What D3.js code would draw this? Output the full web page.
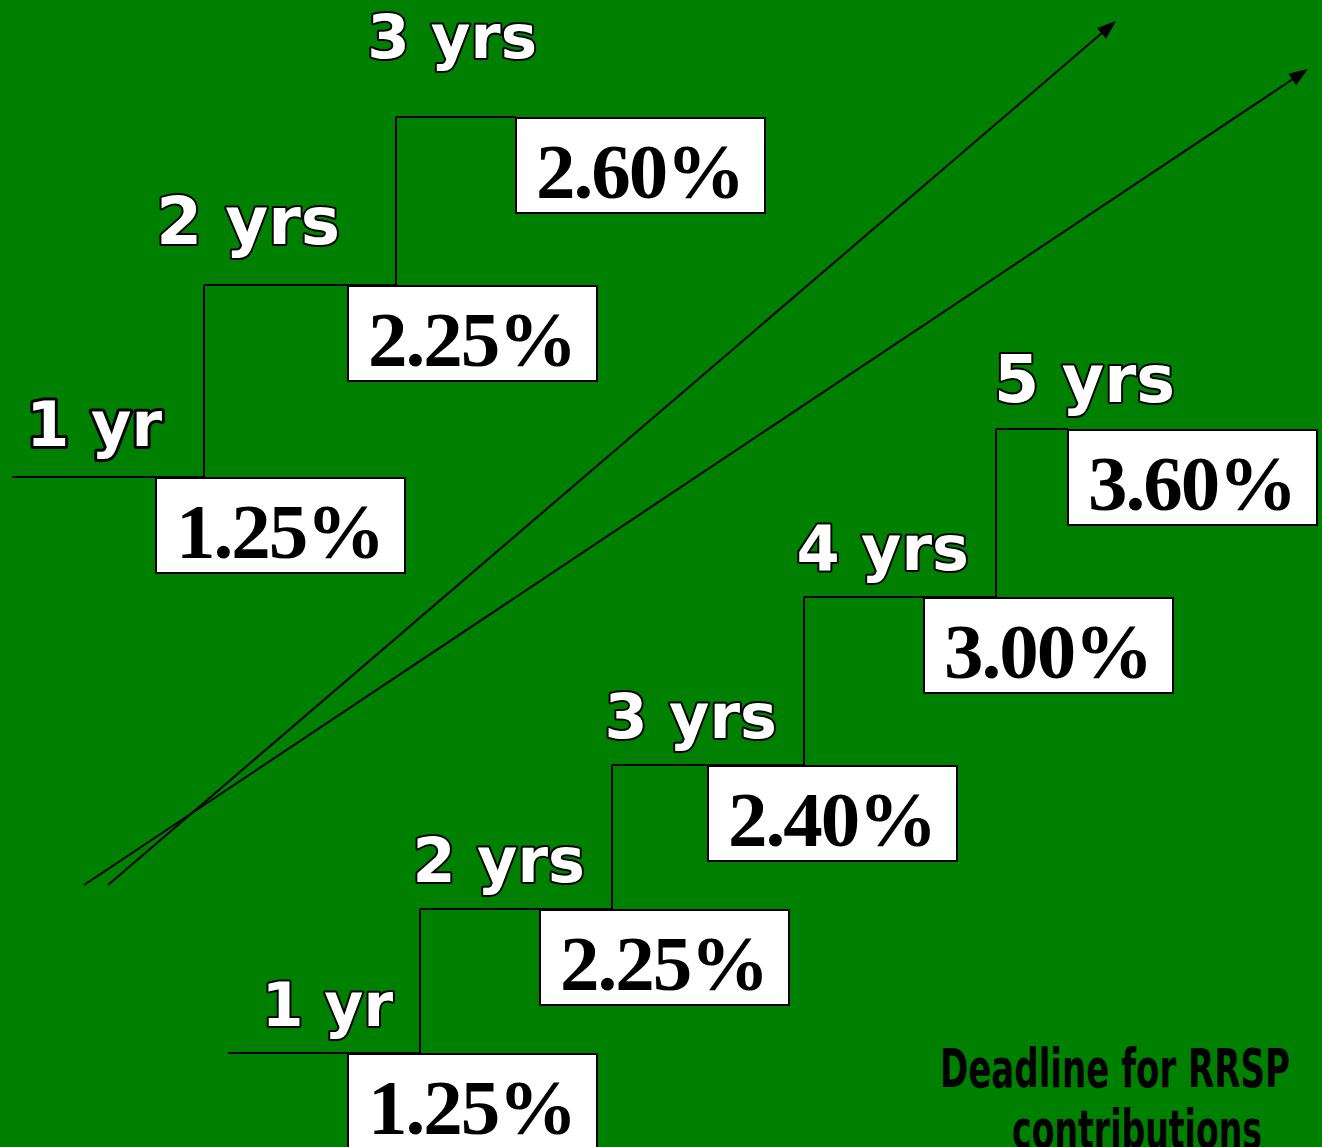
<!DOCTYPE html>
<html>
<head>
<meta charset="utf-8">
<script src="https://cdn.jsdelivr.net/npm/d3@7"></script>
<style>
  html, body { margin: 0; padding: 0; background: #008000; overflow: hidden; }
  .term { font-family: "DejaVu Sans", Verdana, sans-serif; font-weight: bold; fill: #fff; stroke: #000; paint-order: stroke; stroke-linejoin: round; }
  .rate { font-family: "Liberation Serif", "Times New Roman", serif; font-weight: bold; font-size: 79px; letter-spacing: -2px; fill: #000; }
  .note { font-family: "DejaVu Sans", Tahoma, sans-serif; font-weight: bold; font-size: 53px; fill: #000; }
</style>
</head>
<body>
<div id="chart"></div>
<script>
// terms and GIC rates
const termsTop = ["1 yr", "2 yrs", "3 yrs"];
const ratesTop = [1.25, 2.25, 2.6];
const termsBottom = ["1 yr", "2 yrs", "3 yrs", "4 yrs", "5 yrs"];
const ratesBottom = [1.25, 2.25, 2.4, 3.0, 3.6];
const noteLines = ["Deadline for RRSP", "contributions"];

const width = 1322;
const height = 1147;
const stepW = 192;
const boxW = 249;
const boxH = 95;

// layout of the two staircases (hand placed on the original slide)
const stairs = [
  {
    terms: termsTop,
    rates: ratesTop,
    x0: 12,
    levels: [477, 285, 117],
    boxShift: [144, 144, 120],
    labelSize: [62, 66, 61],
    labelStroke: [3, 2, 2],
    labelDx: [-42, -56, -51],
    labelDy: [-31, -41, -59],
  },
  {
    terms: termsBottom,
    rates: ratesBottom,
    x0: 228,
    levels: [1053, 909, 765, 597, 429],
    boxShift: [120, 120, 96, 120, 72],
    labelSize: [60, 62, 62, 62, 65],
    labelStroke: [2, 2, 2, 2, 2],
    labelDx: [-27, -27, -27, -27, -13],
    labelDy: [-27, -27, -27, -27, -27],
  },
];

const arrows = [
  { from: [108, 885], to: [1116, 21] },
  { from: [84, 885], to: [1308, 69] },
];

const fmt = (d) => d3.format(".2f")(d) + "%";

const svg = d3
  .select("#chart")
  .append("svg")
  .attr("width", width)
  .attr("height", height);

svg.append("rect").attr("width", width).attr("height", height).attr("fill", "#008000");

stairs.forEach((s) => {
  const n = s.terms.length;
  const idx = d3.range(n);
  const x = d3.scaleLinear().domain([0, 1]).range([s.x0, s.x0 + stepW]);
  const y = d3.scaleLinear().domain(idx).range(s.levels);
  const boxX = (i) => x(i) + s.boxShift[i];

  const g = svg.append("g");

  // horizontal treads
  g.selectAll(".tread")
    .data(idx)
    .join("line")
    .attr("x1", (i) => x(i))
    .attr("x2", (i) => (i < n - 1 ? x(i + 1) : boxX(i)))
    .attr("y1", (i) => y(i))
    .attr("y2", (i) => y(i))
    .attr("stroke", "#000")
    .attr("stroke-width", 2);

  // vertical risers
  g.selectAll(".riser")
    .data(idx.slice(1))
    .join("line")
    .attr("x1", (i) => x(i))
    .attr("x2", (i) => x(i))
    .attr("y1", (i) => y(i - 1))
    .attr("y2", (i) => y(i))
    .attr("stroke", "#000")
    .attr("stroke-width", 2);

  g.selectAll(".term")
    .data(idx)
    .join("text")
    .attr("class", "term")
    .attr("x", (i) => x(i + 1) + s.labelDx[i])
    .attr("y", (i) => y(i) + s.labelDy[i])
    .attr("text-anchor", "end")
    .style("font-size", (i) => s.labelSize[i] + "px")
    .style("stroke-width", (i) => s.labelStroke[i] * 2)
    .text((i) => s.terms[i]);

  g.selectAll(".box")
    .data(idx)
    .join("rect")
    .attr("x", (i) => boxX(i))
    .attr("y", (i) => y(i) + 1)
    .attr("width", boxW)
    .attr("height", boxH)
    .attr("fill", "#fff")
    .attr("stroke", "#000")
    .attr("stroke-width", 2);

  g.selectAll(".rate")
    .data(idx)
    .join("text")
    .attr("class", "rate")
    .attr("x", (i) => boxX(i) + 20)
    .attr("y", (i) => y(i) + 81)
    .text((i) => fmt(s.rates[i]));
});

// arrows with filled heads
const arrowG = svg.append("g");
arrows.forEach((a) => {
  const [x1, y1] = a.from;
  const [x2, y2] = a.to;
  const ang = Math.atan2(y2 - y1, x2 - x1);
  const len = 19;
  const half = 7;
  const bx = x2 - len * Math.cos(ang);
  const by = y2 - len * Math.sin(ang);
  arrowG
    .append("line")
    .attr("x1", x1)
    .attr("y1", y1)
    .attr("x2", bx)
    .attr("y2", by)
    .attr("stroke", "#000")
    .attr("stroke-width", 2);
  const pts = [
    [x2, y2],
    [bx + half * Math.sin(ang), by - half * Math.cos(ang)],
    [bx - half * Math.sin(ang), by + half * Math.cos(ang)],
  ];
  arrowG
    .append("path")
    .attr("d", d3.line()(pts) + "Z")
    .attr("fill", "#000");
});

svg
  .append("text")
  .attr("class", "note")
  .attr("x", 940)
  .attr("y", 1087)
  .attr("textLength", 350)
  .attr("lengthAdjust", "spacingAndGlyphs")
  .text(noteLines[0]);

svg
  .append("text")
  .attr("class", "note")
  .attr("x", 1012)
  .attr("y", 1148)
  .attr("textLength", 250)
  .attr("lengthAdjust", "spacingAndGlyphs")
  .text(noteLines[1]);
</script>
</body>
</html>
